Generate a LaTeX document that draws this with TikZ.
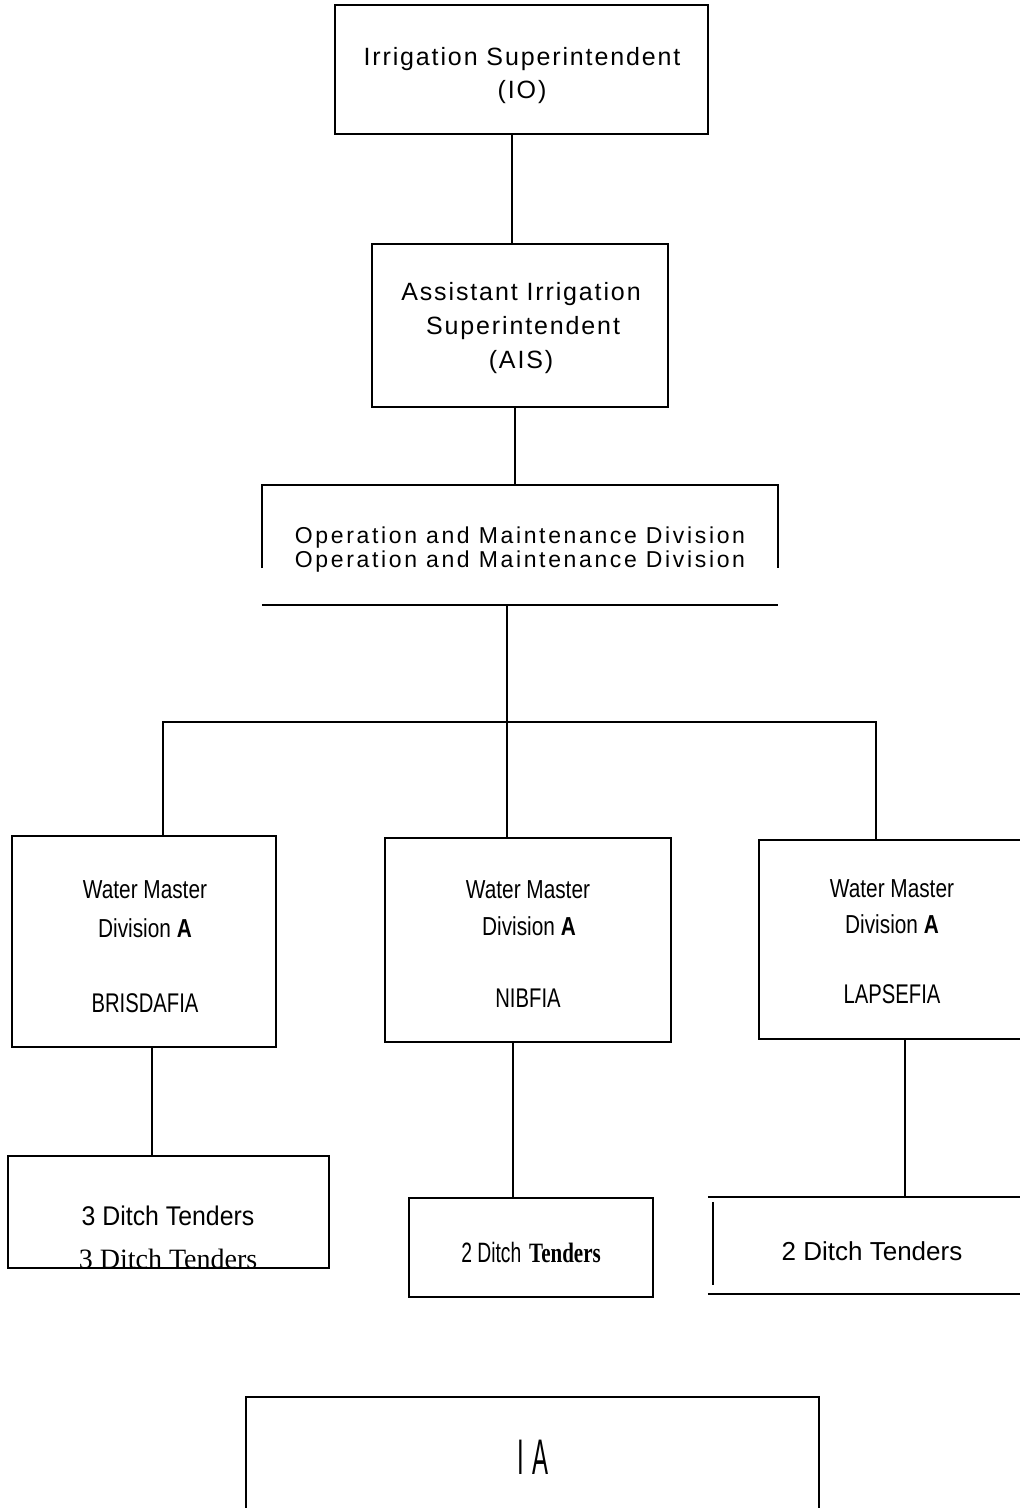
\documentclass[tikz,border=0pt]{standalone}
\usepackage{fontspec}
\setmainfont{Liberation Sans}
\newfontfamily\trk[LetterSpace=7.5]{Liberation Sans}
\newfontfamily\trkb[LetterSpace=11.5]{Liberation Sans}
\newfontfamily\wmfont[FakeStretch=0.8]{Liberation Sans}
\newfontfamily\lblfont[FakeStretch=0.75]{Liberation Sans}
\newfontfamily\dtfont[FakeStretch=0.92]{Liberation Sans}
\newfontfamily\nsans[FakeStretch=0.69]{Liberation Sans}
\newfontfamily\nserif[FakeStretch=0.75]{Liberation Serif}
\newfontfamily\iafont[FakeStretch=0.48]{Liberation Sans}
\begin{document}
\begin{tikzpicture}[x=1pt,y=-1pt,
  box/.style={draw, line width=1.5pt, rectangle, inner sep=0pt},
  frame/.style={rectangle, inner sep=0pt},
  edge/.style={line width=1.5pt},
  txt/.style={inner sep=0pt, anchor=base},
  toptxt/.style={txt, font=\trk\fontsize{25}{28}\selectfont},
  omtxt/.style={txt, font=\trkb\fontsize{23}{26}\selectfont},
  wmtxt/.style={txt, font=\wmfont\fontsize{26}{28}\selectfont},
  lbltxt/.style={txt, font=\lblfont\fontsize{27}{30}\selectfont}]
\useasboundingbox[fill=white] (0,0) rectangle (1020,1508);

% boxes
\node[box, minimum width=373pt, minimum height=129pt] (io) at (521.5,69.5) {};
\node[box, minimum width=296pt, minimum height=163pt] (ais) at (520,325.5) {};
\node[frame, minimum width=516pt, minimum height=120pt] (om) at (520,545) {};
\draw[edge] ([yshift=37pt]om.south west) -- (om.north west) -- (om.north east) -- ([yshift=37pt]om.south east);
\draw[edge] (om.south west) -- (om.south east);
\node[box, minimum width=264pt, minimum height=211pt] (wma) at (144,941.5) {};
\node[box, minimum width=286pt, minimum height=204pt] (wmb) at (528,940) {};
\node[frame, minimum width=261pt, minimum height=199pt] (wmc) at (889.5,939.5) {};
\draw[edge] (wmc.north east) -- (wmc.north west) -- (wmc.south west) -- (wmc.south east);
\node[box, minimum width=321pt, minimum height=112pt] (dta) at (168.5,1212) {};
\node[box, minimum width=244pt, minimum height=99pt] (dtb) at (531,1247.5) {};
\node[frame, minimum width=312pt, minimum height=97pt] (dtc) at (864,1245.5) {};
\draw[edge] (dtc.north west) -- (dtc.north east);
\draw[edge] (dtc.south west) -- (dtc.south east);
\draw[line width=2.6pt] ([xshift=5pt,yshift=-5pt]dtc.north west) -- ([xshift=5pt,yshift=9pt]dtc.south west);
\node[frame, minimum width=573pt, minimum height=111pt] (ia) at (532.5,1452.5) {};
\draw[edge] (ia.south west) -- (ia.north west) -- (ia.north east) -- (ia.south east);

% connectors
\coordinate (x1) at (512,0);
\coordinate (x2) at (515,0);
\coordinate (x3) at (507,0);
\coordinate (xa) at (163,0);
\coordinate (xc) at (876,0);
\coordinate (bus) at (0,722);
\coordinate (xd) at (152,0);
\coordinate (xe) at (513,0);
\coordinate (xf) at (905,0);
\draw[edge] (io.south -| x1) -- (ais.north -| x1);
\draw[edge] (ais.south -| x2) -- (om.north -| x2);
\draw[edge] (om.south -| x3) -- (wmb.north -| x3);
\draw[edge] (wma.north -| xa) -- (bus -| xa) -- (bus -| xc) -- (wmc.north -| xc);
\draw[edge] (wma.south -| xd) -- (dta.north -| xd);
\draw[edge] (wmb.south -| xe) -- (dtb.north -| xe);
\draw[edge] (wmc.south -| xf) -- (dtc.north -| xf);

% texts
\node[toptxt] (io1) at (522,65) {Irrigation Superintendent};
\node[toptxt] (io2) at (522,98) {(IO)};
\node[toptxt] (ais1) at (521,300) {Assistant Irrigation};
\node[toptxt] (ais2) at (523,334) {Superintendent};
\node[toptxt] (ais3) at (521,368) {(AIS)};
\node[omtxt] (om1) at (520,543) {Operation and Maintenance Division};
\node[omtxt] (om2) at (520,567) {Operation and Maintenance Division};

\node[wmtxt] (wma1) at (145,898) {Water Master};
\node[wmtxt] (wma2) at (145,937) {Division \textbf{A}};
\node[lbltxt] (wma3) at (145,1012) {BRISDAFIA};
\node[wmtxt] (wmb1) at (528,898) {Water Master};
\node[wmtxt] (wmb2) at (529,935) {Division \textbf{A}};
\node[lbltxt] (wmb3) at (528,1007) {NIBFIA};
\node[wmtxt] (wmc1) at (892,897) {Water Master};
\node[wmtxt] (wmc2) at (892,933) {Division \textbf{A}};
\node[lbltxt] (wmc3) at (892,1003) {LAPSEFIA};

\node[txt, font=\dtfont\fontsize{27}{30}\selectfont] (dta1) at (168,1225) {3 Ditch Tenders};
\node[txt, font=\fontspec{Liberation Serif}\fontsize{28}{30}\selectfont] (dta2) at (168,1268) {3 Ditch Tenders};
\node[txt, font=\fontsize{28}{30}\selectfont] (dtb1) at (531,1262) {{\nsans 2 Ditch} {\nserif\bfseries Tenders}};
\node[txt, font=\fontsize{26}{30}\selectfont] (dtc1) at (872,1260) {2 Ditch Tenders};
\node[txt, font=\iafont\fontsize{50}{54}\selectfont] (ia1) at (533,1474) {I\hspace{8pt}A};
\end{tikzpicture}
\end{document}
